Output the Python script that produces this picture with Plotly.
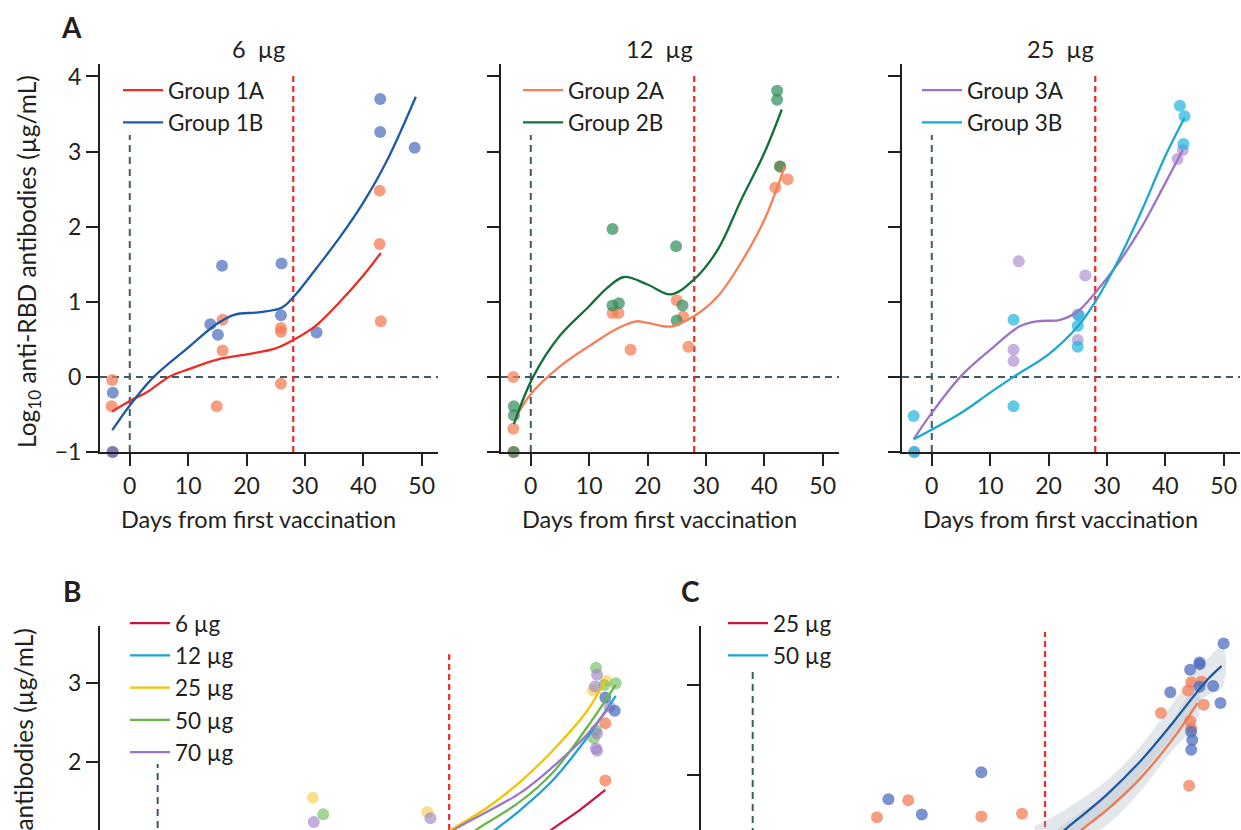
import plotly.graph_objects as go

W, H = 1241, 830
FONT = "Lato"
INK = "#231f20"
SLATE = "#3d5b69"
RED = "#ee2a24"

def px(p):
    return p / W

def py(p):
    return 1 - p / H

# ---------------- Panel A data ----------------
# 6 µg
g1a_x = [-3, -3.1, -3, 15.9, 15.9, 14.9, 25.9, 25.9, 25.9, 42.8, 42.8, 43]
g1a_y = [-0.04, -0.39, -1.0, 0.76, 0.35, -0.39, 0.65, 0.60, -0.09, 2.48, 1.77, 0.74]
g1b_x = [-2.9, -2.9, 13.8, 15.1, 15.8, 26, 25.9, 32, 42.9, 42.9, 48.8]
g1b_y = [-0.21, -1.0, 0.70, 0.56, 1.48, 1.51, 0.82, 0.59, 3.70, 3.26, 3.05]
fit1a_x = [-3, 0, 3, 6.7, 10, 15, 20, 25, 28, 32, 36, 40, 43]
fit1a_y = [-0.46, -0.32, -0.20, 0.0, 0.10, 0.23, 0.30, 0.38, 0.49, 0.69, 1.0, 1.35, 1.65]
fit1b_x = [-3, 0, 4.1, 10, 15, 18, 22, 26, 28, 32, 36, 40, 44, 49]
fit1b_y = [-0.71, -0.38, 0.0, 0.39, 0.71, 0.83, 0.86, 0.92, 1.06, 1.45, 1.86, 2.32, 2.87, 3.73]

# 12 µg
g2a_x = [-3, -3, -3, 14, 15, 17.1, 25, 26.1, 27, 41.9, 44, 42.7]
g2a_y = [0.0, -0.69, -1.0, 0.85, 0.85, 0.36, 1.02, 0.80, 0.40, 2.52, 2.63, 2.80]
g2b_x = [-2.9, -2.9, -2.9, 14, 14, 15.1, 24.9, 26, 25, 42.2, 42.2, 42.7]
g2b_y = [-0.39, -0.51, -1.0, 1.97, 0.95, 0.98, 1.74, 0.95, 0.75, 3.81, 3.69, 2.80]
fit2a_x = [-2.9, 0, 5, 10, 15, 18, 20, 24, 28, 32, 36, 40, 43.5]
fit2a_y = [-0.58, -0.23, 0.14, 0.41, 0.65, 0.74, 0.72, 0.67, 0.81, 1.07, 1.52, 2.09, 2.80]
fit2b_x = [-2.9, 0.4, 5, 10, 13, 16, 20, 24, 28, 32, 36, 40, 43]
fit2b_y = [-0.63, 0.0, 0.55, 0.94, 1.18, 1.33, 1.23, 1.10, 1.30, 1.69, 2.35, 2.98, 3.56]

# 25 µg
g3a_x = [-3, 14.9, 26.3, 14, 14, 25, 25, 42.1, 43]
g3a_y = [-1.0, 1.54, 1.35, 0.36, 0.21, 0.83, 0.49, 2.90, 3.02]
g3b_x = [-3.1, -3, 14, 14, 25.2, 25, 25, 42.5, 43.3, 43.1]
g3b_y = [-0.52, -1.0, 0.76, -0.39, 0.82, 0.68, 0.40, 3.61, 3.47, 3.10]
fit3a_x = [-3.1, 0, 5, 10, 15, 18, 22, 25, 28, 32, 36, 40, 43]
fit3a_y = [-0.83, -0.48, 0.01, 0.36, 0.67, 0.74, 0.76, 0.87, 1.12, 1.52, 2.0, 2.58, 3.02]
fit3b_x = [-3.1, 5, 10, 14, 20, 25, 28, 32, 36, 40, 43.3]
fit3b_y = [-0.83, -0.48, -0.21, 0.0, 0.30, 0.67, 1.0, 1.56, 2.22, 2.94, 3.45]

# ---------------- Panel B data ----------------
b6_x = [37.3, 38, 40.5, 43]
b6_y = [1.08, 1.15, 1.38, 1.64]
b12_x = [32.0, 32.6, 34.8, 38, 41.2, 44]
b12_y = [1.09, 1.15, 1.38, 1.77, 2.30, 2.84]
b25_x = [27.8, 28.4, 31.6, 34.8, 38, 41.2, 43]
b25_y = [1.10, 1.15, 1.41, 1.74, 2.15, 2.64, 3.04]
b50_x = [30.3, 30.8, 34.8, 38, 41.2, 44]
b50_y = [1.10, 1.15, 1.49, 1.87, 2.43, 2.98]
b70_x = [28.2, 28.7, 34.8, 38, 41.2, 43.5]
b70_y = [1.10, 1.15, 1.60, 1.94, 2.34, 2.72]

bp_yellow_x = [14.9, 25.9, 43.1, 41.8]
bp_yellow_y = [1.54, 1.36, 3.03, 2.91]
bp_green_x = [15.9, 42.1, 42.9, 44, 42.1, 41.9]
bp_green_y = [1.33, 3.20, 2.98, 3.00, 2.40, 2.30]
bp_purple_x = [15, 26.2, 42.2, 42, 42.2, 42.1, 42.2, 43.4]
bp_purple_y = [1.23, 1.28, 3.11, 2.96, 2.36, 2.17, 2.14, 2.70]
bp_blue_x = [43, 43.9]
bp_blue_y = [2.82, 2.65]
bp_orange_x = [43, 43]
bp_orange_y = [2.49, 1.76]

# ---------------- Panel C data ----------------
c_or_x = [14.9, 11.9, 21.9, 25.8, 42, 43, 41.7, 43.2, 39.1, 41.9, 42, 41.8]
c_or_y = [1.72, 1.53, 1.54, 1.57, 3.03, 3.04, 2.94, 2.78, 2.69, 2.60, 2.52, 1.88]
c_bl_x = [13, 16.2, 21.9, 45.1, 42.8, 42.8, 41.9, 44.1, 42.8, 40, 44.8, 42, 42.1, 42]
c_bl_y = [1.73, 1.56, 2.03, 3.46, 3.25, 3.23, 3.17, 2.99, 2.98, 2.92, 2.80, 2.48, 2.39, 2.28]
c_blfit_x = [29.5, 30.1, 33.9, 37.1, 40.3, 43.4, 44.9]
c_blfit_y = [1.35, 1.41, 1.78, 2.15, 2.59, 3.04, 3.21]
c_orfit_x = [31.2, 31.7, 33.9, 37.1, 40.3, 42.6]
c_orfit_y = [1.36, 1.41, 1.61, 1.96, 2.41, 2.80]
c_blband_x = [27, 30, 34, 37, 40, 43, 45]
c_blband_hi = [1.43, 1.62, 1.95, 2.30, 2.76, 3.22, 3.42]
c_blband_lo = [1.00, 1.25, 1.62, 1.98, 2.40, 2.84, 2.98]
c_orband_x = [29, 31, 34, 37, 40, 42.6]
c_orband_hi = [1.38, 1.55, 1.78, 2.12, 2.57, 3.00]
c_orband_lo = [1.05, 1.22, 1.45, 1.80, 2.25, 2.60]

a_ticks = [-1, 0, 1, 2, 3, 4]
a_xticks = [0, 10, 20, 30, 40, 50]
a_titles = ["6\u00a0\u00a0µg", "12\u00a0\u00a0µg", "25\u00a0\u00a0µg"]

# ---------------- Figure ----------------
fig = go.Figure()

def pts(x, y, color, xa, ya, op=0.72, clip=False):
    fig.add_trace(go.Scatter(x=x, y=y, mode="markers", xaxis=xa, yaxis=ya,
                             marker=dict(size=12, color=color, opacity=op, line=dict(width=0)),
                             showlegend=False, cliponaxis=clip, hoverinfo="skip"))

def curve(x, y, color, xa, ya, name=None, legend=None, width=2.3):
    fig.add_trace(go.Scatter(x=x, y=y, mode="lines", xaxis=xa, yaxis=ya,
                             line=dict(color=color, width=width, shape="spline", smoothing=1.0),
                             name=name, showlegend=name is not None,
                             legend=legend, hoverinfo="skip"))

def band(x, hi, lo, xa, ya, color):
    fig.add_trace(go.Scatter(x=x + x[::-1], y=hi + lo[::-1], mode="lines", xaxis=xa, yaxis=ya,
                             fill="toself", fillcolor=color, line=dict(width=0, shape="spline"),
                             showlegend=False, hoverinfo="skip"))

# A1
pts(g1a_x, g1a_y, "#f4794f", "x", "y")
pts(g1b_x, g1b_y, "#4e6fbf", "x", "y")
curve(fit1a_x, fit1a_y, "#ee2b24", "x", "y", "Group 1A", "legend")
curve(fit1b_x, fit1b_y, "#1c5aa6", "x", "y", "Group 1B", "legend")
# A2
pts(g2a_x, g2a_y, "#f47c55", "x2", "y2")
pts(g2b_x, g2b_y, "#2e8b57", "x2", "y2", op=0.7)
curve(fit2a_x, fit2a_y, "#f77f58", "x2", "y2", "Group 2A", "legend2")
curve(fit2b_x, fit2b_y, "#11703a", "x2", "y2", "Group 2B", "legend2")
# A3
pts(g3a_x, g3a_y, "#b192d4", "x3", "y3", op=0.7)
pts(g3b_x, g3b_y, "#1fb3dc", "x3", "y3", op=0.7)
curve(fit3a_x, fit3a_y, "#9d74c5", "x3", "y3", "Group 3A", "legend3")
curve(fit3b_x, fit3b_y, "#19a8d0", "x3", "y3", "Group 3B", "legend3")
# B
pts(bp_yellow_x, bp_yellow_y, "#f2cf4e", "x4", "y4", op=0.65, clip=True)
pts(bp_green_x, bp_green_y, "#72bf5e", "x4", "y4", op=0.65, clip=True)
pts(bp_purple_x, bp_purple_y, "#a084cc", "x4", "y4", op=0.65, clip=True)
pts(bp_blue_x, bp_blue_y, "#4e6fbf", "x4", "y4", op=0.75, clip=True)
pts(bp_orange_x, bp_orange_y, "#f47c55", "x4", "y4", op=0.75, clip=True)
curve(b6_x, b6_y, "#c8163f", "x4", "y4", "6 µg", "legend4")
curve(b12_x, b12_y, "#1aa3d4", "x4", "y4", "12 µg", "legend4")
curve(b25_x, b25_y, "#f2c500", "x4", "y4", "25 µg", "legend4")
curve(b50_x, b50_y, "#66b845", "x4", "y4", "50 µg", "legend4")
curve(b70_x, b70_y, "#9a77c6", "x4", "y4", "70 µg", "legend4")
# C
band(c_blband_x, c_blband_hi, c_blband_lo, "x5", "y5", "rgba(170,182,198,0.33)")
band(c_orband_x, c_orband_hi, c_orband_lo, "x5", "y5", "rgba(170,182,198,0.33)")
pts(c_or_x, c_or_y, "#f47c55", "x5", "y5", op=0.75, clip=True)
pts(c_bl_x, c_bl_y, "#4e6fbf", "x5", "y5", op=0.75, clip=True)
curve(c_orfit_x, c_orfit_y, "#f0784e", "x5", "y5")
curve(c_blfit_x, c_blfit_y, "#1c5aa6", "x5", "y5")
# legend-only entries for panel C
fig.add_trace(go.Scatter(x=[None], y=[None], mode="lines", xaxis="x5", yaxis="y5",
                         line=dict(color="#c8163f", width=2.3), name="25 µg", legend="legend5"))
fig.add_trace(go.Scatter(x=[None], y=[None], mode="lines", xaxis="x5", yaxis="y5",
                         line=dict(color="#1aa3d4", width=2.3), name="50 µg", legend="legend5"))

# ---------------- Axes ----------------
tickfont = dict(family=FONT, size=23, color=INK)
axis_common = dict(showgrid=False, zeroline=False, showline=True, linecolor=INK, linewidth=2,
                   ticks="outside", ticklen=12, tickwidth=2, tickcolor=INK, tickfont=tickfont)

a_xdom = [(100, 438), (501, 839), (902, 1240)]
a_ydom = [py(452), py(64)]
for i, (l, r) in enumerate(a_xdom):
    s = "" if i == 0 else str(i + 1)
    fig.update_layout(**{
        "xaxis" + s: dict(axis_common, domain=[px(l), px(r)], range=[-5.1, 52.8],
                          tickvals=a_xticks, anchor="y" + s),
        "yaxis" + s: dict(axis_common, domain=a_ydom, range=[-1, 4.166], tickvals=a_ticks,
                          showticklabels=(i == 0), anchor="x" + s),
    })

fig.update_layout(
    xaxis4=dict(domain=[px(100), px(640)], range=[-5.54, 46.33], visible=False, anchor="y4"),
    yaxis4=dict(axis_common, domain=[0, py(625.7)], range=[1.129, 3.735], tickvals=[2, 3], anchor="x4"),
    xaxis5=dict(domain=[px(701), 1.0], range=[-4.95, 46.77], visible=False, anchor="y5"),
    yaxis5=dict(axis_common, domain=[0, py(625.7)], range=[1.389, 3.659], tickvals=[2, 3],
                showticklabels=False, anchor="x5"),
)

# ---------------- Reference lines ----------------
shapes = []
dash_slate = dict(color=SLATE, width=2, dash="7px,5px")
dash_red = dict(color=RED, width=2.2, dash="6px,4px")
for i in range(3):
    s = "" if i == 0 else str(i + 1)
    shapes.append(dict(type="line", xref="x" + s + " domain", yref="y" + s, x0=0, x1=1, y0=0, y1=0,
                       line=dash_slate, layer="below"))
    shapes.append(dict(type="line", xref="x" + s, yref="y" + s, x0=0, x1=0, y0=-1, y1=3.22,
                       line=dash_slate, layer="below"))
    shapes.append(dict(type="line", xref="x" + s, yref="y" + s, x0=28, x1=28, y0=-1, y1=4.05,
                       line=dash_red, layer="below"))
shapes.append(dict(type="line", xref="x4", yref="y4", x0=0, x1=0, y0=1.0, y1=1.97,
                   line=dash_slate, layer="below"))
shapes.append(dict(type="line", xref="x4", yref="y4", x0=28, x1=28, y0=1.0, y1=3.37,
                   line=dash_red, layer="below"))
shapes.append(dict(type="line", xref="x5", yref="y5", x0=0, x1=0, y0=1.2, y1=3.18,
                   line=dash_slate, layer="below"))
shapes.append(dict(type="line", xref="x5", yref="y5", x0=28, x1=28, y0=1.2, y1=3.59,
                   line=dash_red, layer="below"))

# ---------------- Text ----------------
txt = dict(family=FONT, size=23.5, color=INK)
ytxt = dict(family=FONT, size=24.5, color=INK)
legtxt = dict(family=FONT, size=22.5, color=INK)
annotations = []
for i in range(3):
    s = "" if i == 0 else str(i + 1)
    annotations.append(dict(text=a_titles[i], xref="x" + s, yref="paper", x=22, y=py(49),
                            showarrow=False, font=txt, xanchor="center", yanchor="middle"))
    annotations.append(dict(text="Days from first vaccination", xref="x" + s, yref="paper", x=22,
                            y=py(519), showarrow=False, font=txt, xanchor="center", yanchor="middle"))
ytitle = "Log<sub>10</sub> anti-RBD antibodies (µg/mL)"
annotations.append(dict(text=ytitle, xref="paper", yref="paper", x=px(28), y=py(262), textangle=-90,
                        showarrow=False, font=ytxt, xanchor="center", yanchor="middle"))
annotations.append(dict(text=ytitle, xref="paper", yref="paper", x=px(25), y=py(815), textangle=-90,
                        showarrow=False, font=ytxt, xanchor="center", yanchor="middle"))
bold = dict(family=FONT, size=28, color=INK)
for letter, (lx, ly) in {"A": (71, 27), "B": (72, 591), "C": (690, 591)}.items():
    annotations.append(dict(text="<b>" + letter + "</b>", xref="paper", yref="paper", x=px(lx), y=py(ly),
                            showarrow=False, font=bold, xanchor="center", yanchor="middle"))

legend_common = dict(bgcolor="rgba(0,0,0,0)", borderwidth=0, font=legtxt, itemwidth=40,
                     xanchor="left", yanchor="top", tracegroupgap=0, xref="paper", yref="paper")

fig.update_layout(
    width=W, height=H, margin=dict(l=0, r=0, t=0, b=0, autoexpand=False),
    paper_bgcolor="white", plot_bgcolor="white",
    font=dict(family=FONT, color=INK),
    shapes=shapes, annotations=annotations,
    legend=dict(legend_common, x=px(118), y=py(69)),
    legend2=dict(legend_common, x=px(518), y=py(69)),
    legend3=dict(legend_common, x=px(917), y=py(69)),
    legend4=dict(legend_common, x=px(125), y=py(602)),
    legend5=dict(legend_common, x=px(723), y=py(602)),
)

fig.write_html("out.html", config={"displayModeBar": False},
               post_script="document.body.style.margin='0px';document.body.style.overflow='hidden';")
